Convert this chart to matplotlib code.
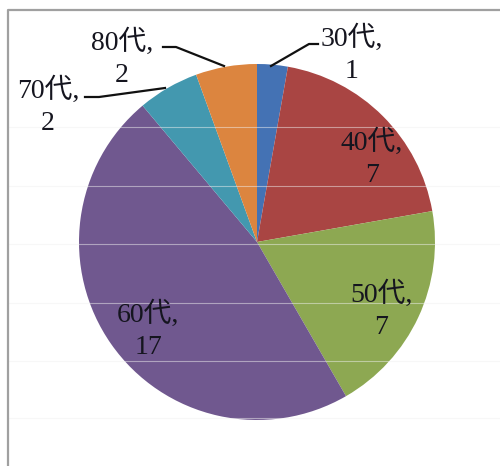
import matplotlib
matplotlib.use('Agg')
import matplotlib.pyplot as plt

W, H = 500, 466

ages = ['30代', '40代', '50代', '60代', '70代', '80代']
counts = [1, 7, 7, 17, 2, 2]
colors = ['#4472B4', '#A94543', '#8DA852', '#70588F', '#4398AF', '#DC853F']

# label centres (image pixels) and leader lines for the outside ones
label_pos = [(352, 54), (372, 158), (381, 310), (148, 330), (48, 106), (122, 58)]
leaders = {
    0: [(271, 66), (309, 44), (318, 44)],
    4: [(165, 88), (99, 97), (85, 97)],
    5: [(224, 66), (176, 47), (163, 47)],
}

def px(x, y):
    return x, H - y

fig = plt.figure(figsize=(W / 100, H / 100), dpi=100)
ax = fig.add_axes([0, 0, 1, 1])

ax.pie(counts, colors=colors, startangle=90, counterclock=False,
       center=px(257, 242), radius=178, wedgeprops=dict(linewidth=0))
ax.set_xlim(0, W)
ax.set_ylim(0, H)
ax.axis('off')

font = ['Liberation Serif', 'Noto Sans CJK JP']
for i, (age, n) in enumerate(zip(ages, counts)):
    ax.text(*px(*label_pos[i]), f'{age},\n{n}', ha='center', va='center',
            fontsize=20, family=font, linespacing=1.38, color='#15151f')
    if i in leaders:
        pts = [px(*p) for p in leaders[i]]
        ax.plot([p[0] for p in pts], [p[1] for p in pts], color='#111111', lw=1.6)

# faint grid lines of the sheet underneath
for y in [127, 186, 244, 303, 361, 418]:
    ax.plot([9, W], [H - y] * 2, color='#f0f0f0', lw=0.8, alpha=0.5)

# chart border
ax.plot([8, 8, W + 5], [-5, H - 10, H - 10], color='#a0a0a0', lw=1.6, clip_on=False)

fig.savefig('out.png', dpi=100)
